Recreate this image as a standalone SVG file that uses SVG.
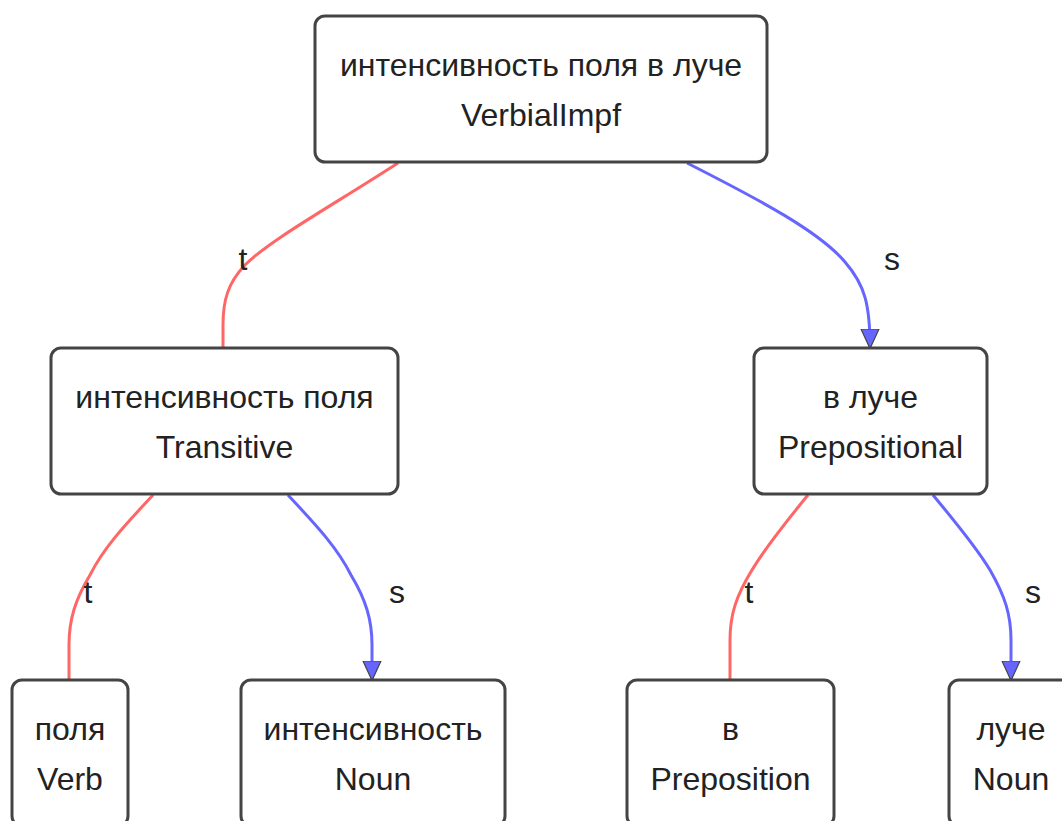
<svg xmlns="http://www.w3.org/2000/svg" width="1062" height="821" viewBox="0 0 1062 821">
<style>
.node rect{fill:#ffffff;stroke:#444444;stroke-width:3}
.node text,.lbl{font-family:"Liberation Sans",Arial,sans-serif;font-size:32px;fill:#222222;text-anchor:middle}
.t{fill:none;stroke:#ff6666;stroke-width:3}
.s{fill:none;stroke:#6666ff;stroke-width:3;marker-end:url(#arr)}
</style>
<defs>
<marker id="arr" markerWidth="7" markerHeight="7" refX="6" refY="3.5" orient="auto" markerUnits="strokeWidth" viewBox="0 0 7 7">
<path d="M0,0.5 L6.5,3.5 L0,6.5 Z" fill="#6666ff" stroke="#444444" stroke-width="0.4"/>
</marker>
</defs>
<rect width="1062" height="821" fill="#ffffff"/>
<g id="edges">
<path class="t" d="M398,163 C330,207 270,240 245,265 C228,283 223,300 223,325 L223,347"/>
<path class="s" d="M687,163 C760,200 820,232 845,262 C865,285 870,305 870,347"/>
<path class="t" d="M153,495 C130,520 105,545 90,575 C75,600 69,620 69,645 L69,679"/>
<path class="s" d="M288,495 C311,520 336,545 351,575 C366,600 372,620 372,645 L372,679"/>
<path class="t" d="M808,495 C790,517 767,545 752,570 C736,596 730,615 730,640 L730,679"/>
<path class="s" d="M933,495 C951,517 975,545 990,570 C1005,596 1011,615 1011,640 L1011,679"/>
<text class="lbl" x="243" y="270">t</text>
<text class="lbl" x="892" y="270">s</text>
<text class="lbl" x="88" y="603">t</text>
<text class="lbl" x="397" y="603">s</text>
<text class="lbl" x="749" y="603">t</text>
<text class="lbl" x="1033" y="603">s</text>
</g>
<g id="n0" class="node"><rect x="315" y="16" width="452" height="146" rx="10"/><text x="541" y="76">интенсивность поля в луче</text><text x="541" y="126">VerbialImpf</text></g>
<g id="n1" class="node"><rect x="51" y="348" width="347" height="146" rx="10"/><text x="224.5" y="408">интенсивность поля</text><text x="224.5" y="458">Transitive</text></g>
<g id="n2" class="node"><rect x="754" y="348" width="233" height="146" rx="10"/><text x="870.5" y="408">в луче</text><text x="870.5" y="458">Prepositional</text></g>
<g id="n3" class="node"><rect x="12" y="680" width="116" height="146" rx="10"/><text x="70" y="740">поля</text><text x="70" y="790">Verb</text></g>
<g id="n4" class="node"><rect x="241" y="680" width="264" height="146" rx="10"/><text x="373" y="740">интенсивность</text><text x="373" y="790">Noun</text></g>
<g id="n5" class="node"><rect x="627" y="680" width="207" height="146" rx="10"/><text x="730.5" y="740">в</text><text x="730.5" y="790">Preposition</text></g>
<g id="n6" class="node"><rect x="949" y="680" width="124" height="146" rx="10"/><text x="1011" y="740">луче</text><text x="1011" y="790">Noun</text></g>
</svg>
